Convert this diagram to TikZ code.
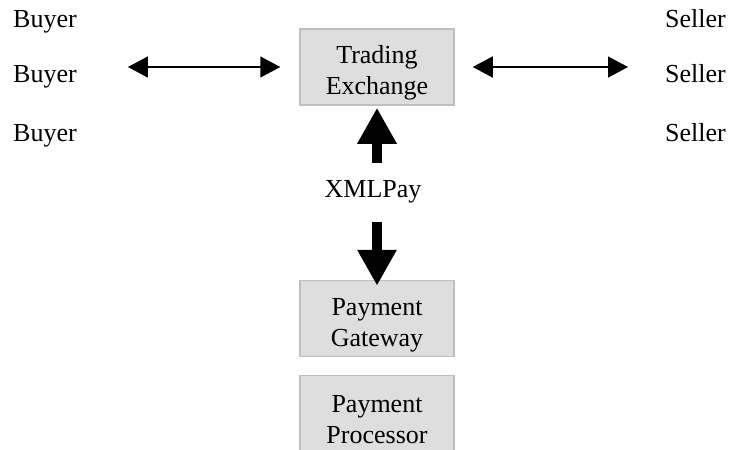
\documentclass[tikz,border=0pt]{standalone}
\usepackage{fontspec}
\setmainfont{Liberation Serif}
\usetikzlibrary{arrows.meta}

\newcommand{\boxstrut}{\rule{0pt}{30pt}}

\tikzset{
  box/.style={draw=black!25, line width=1.5pt, fill=black!13, minimum width=154pt,
              minimum height=76pt, align=center, inner sep=0pt},
  word/.style={inner sep=0pt},
  dbl/.style={line width=1.5pt, {Triangle[width=21pt,length=20pt]}-{Triangle[width=21pt,length=20pt]}},
  fat/.style={line width=10pt, -{Triangle[width=37pt,length=36pt]}}
}

\begin{document}
\begin{tikzpicture}[x=1pt, y=-1pt, font=\fontsize{26}{31}\selectfont]
        \useasboundingbox (0,0) rectangle (729,450);
        \begin{scope}
        \clip (0,0) rectangle (729,450);
        \node[box] (trade) at (377,67)    {\boxstrut Trading\\Exchange};
        \node[box] (gate)  at (377,318.5) {\boxstrut Payment\\Gateway};
        \node[box] (proc)  at (377,413.5) {\boxstrut Payment\\Processor};
        \end{scope}
        \node[word, anchor=base] (xml) at (373,197) {XMLPay};
        \node[word, anchor=base west] (buyer1) at (13,27)  {Buyer};
        \node[word, anchor=base west] (buyer2) at (13,82)  {Buyer};
        \node[word, anchor=base west] (buyer3) at (13,141) {Buyer};
        \node[word, anchor=base west] (seller1) at (665,27)  {Seller};
        \node[word, anchor=base west] (seller2) at (665,82)  {Seller};
        \node[word, anchor=base west] (seller3) at (665,141) {Seller};
        \draw[dbl, shorten <=51pt, shorten >=19pt] (buyer2.east |- trade.west) -- (trade.west);
        \draw[dbl, shorten <=18pt, shorten >=37pt] (trade.east) -- (seller2.west |- trade.east);
        \coordinate (upstart)   at (trade.south |- 0,163);
        \coordinate (downstart) at (trade.south |- 0,222);
        \draw[fat] (upstart) -- ([yshift=-2pt]trade.south);
        \draw[fat] (downstart) -- ([yshift=-6pt]gate.north);
\end{tikzpicture}
\end{document}
